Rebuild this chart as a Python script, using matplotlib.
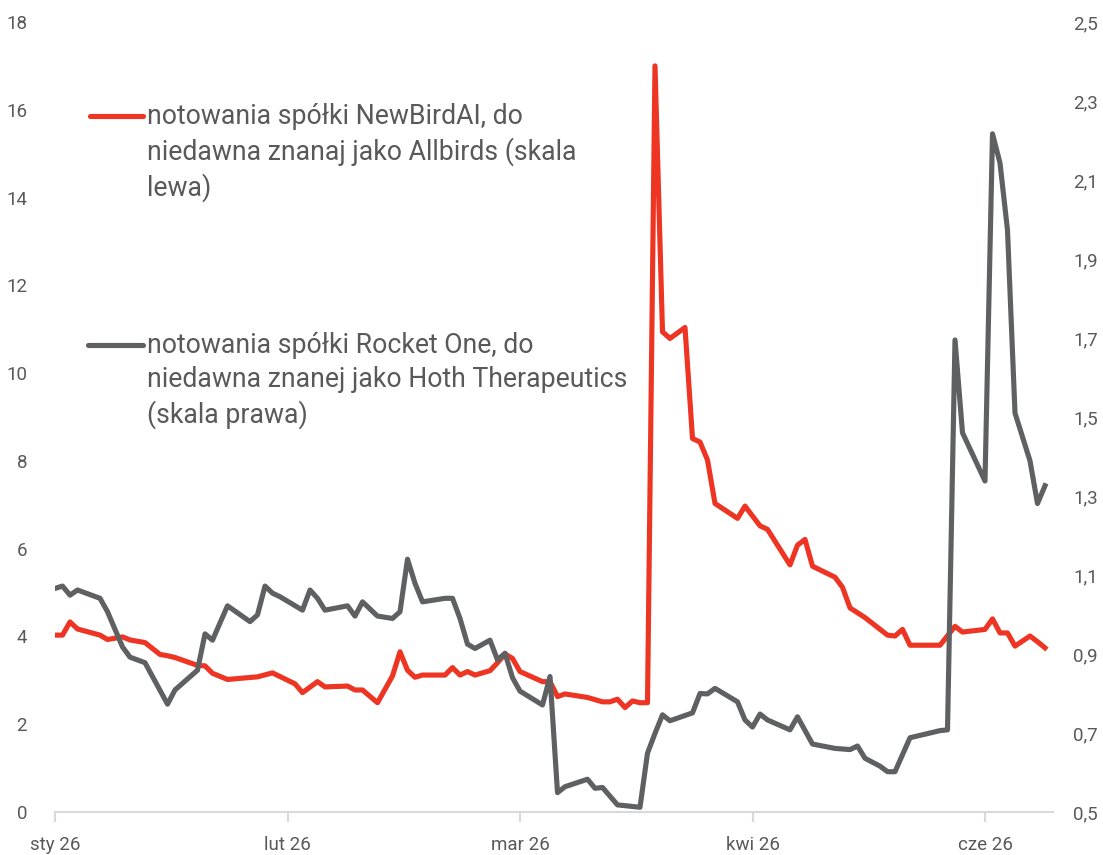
import matplotlib
matplotlib.use("Agg")
import matplotlib.pyplot as plt
from matplotlib.lines import Line2D
from matplotlib.ticker import FuncFormatter

# x = calendar day counted from the first session (trading days only)
newbird_days = [0, 1, 2, 3, 6, 7, 9, 10, 12, 14, 15, 16, 19, 20, 21, 23, 27, 29,
                32, 33, 35, 36, 39, 40, 41, 43, 45, 46, 47, 48, 49, 52, 53, 54,
                55, 56, 58, 59, 60, 61, 62, 65, 66, 67, 68, 71, 73, 74, 75, 76,
                77, 78, 79, 80, 81, 82, 84, 85, 86, 87, 88, 91, 92, 94, 95, 98,
                99, 100, 101, 104, 105, 106, 108, 111, 112, 113, 114, 118, 120,
                121, 124, 125, 126, 127, 128, 130, 131, 132]
newbird_vals = [4.03, 4.03, 4.33, 4.17, 4.03, 3.93, 3.99, 3.92, 3.86, 3.59, 3.56,
                3.52, 3.34, 3.33, 3.16, 3.02, 3.08, 3.17, 2.92, 2.72, 2.97, 2.85,
                2.87, 2.78, 2.78, 2.49, 3.10, 3.65, 3.23, 3.07, 3.12, 3.12, 3.29,
                3.12, 3.20, 3.12, 3.22, 3.40, 3.60, 3.50, 3.20, 2.97, 2.97, 2.63,
                2.69, 2.61, 2.51, 2.51, 2.57, 2.38, 2.53, 2.49, 2.49, 17.0, 10.94,
                10.79, 11.04, 8.51, 8.43, 8.02, 7.03, 6.69, 6.97, 6.52, 6.44, 5.63,
                6.08, 6.21, 5.60, 5.35, 5.12, 4.65, 4.43, 4.03, 4.01, 4.16, 3.80,
                3.80, 4.23, 4.10, 4.16, 4.40, 4.08, 4.08, 3.78, 4.01, 3.88, 3.74]

rocket_days = [0, 1, 2, 3, 6, 7, 9, 10, 12, 15, 16, 19, 20, 21, 23, 26, 27, 28,
               29, 30, 33, 34, 35, 36, 39, 40, 41, 43, 45, 46, 47, 48, 49, 52, 53,
               54, 55, 56, 58, 59, 60, 61, 62, 65, 66, 67, 68, 71, 72, 73, 75, 78,
               79, 80, 81, 82, 85, 86, 87, 88, 91, 92, 93, 94, 95, 98, 99, 101,
               104, 106, 107, 108, 110, 111, 112, 114, 118, 119, 120, 121, 124,
               125, 126, 127, 128, 130, 131, 132]
rocket_vals = [1.066, 1.072, 1.049, 1.062, 1.041, 1.007, 0.918, 0.892, 0.878,
               0.773, 0.809, 0.859, 0.951, 0.935, 1.022, 0.982, 0.999, 1.072,
               1.054, 1.045, 1.011, 1.062, 1.041, 1.011, 1.022, 0.996, 1.032,
               0.996, 0.990, 1.007, 1.140, 1.079, 1.032, 1.041, 1.041, 0.990,
               0.925, 0.914, 0.935, 0.885, 0.902, 0.840, 0.806, 0.771, 0.843,
               0.549, 0.564, 0.583, 0.560, 0.562, 0.518, 0.512, 0.649, 0.699,
               0.746, 0.731, 0.751, 0.800, 0.799, 0.813, 0.779, 0.733, 0.715,
               0.748, 0.733, 0.708, 0.741, 0.672, 0.661, 0.658, 0.667, 0.636,
               0.616, 0.602, 0.602, 0.688, 0.706, 0.708, 1.695, 1.460, 1.338,
               2.217, 2.143, 1.973, 1.510, 1.389, 1.281, 1.326]

tick_days = [0, 31, 62, 93, 124]
tick_labels = ["sty 26", "lut 26", "mar 26", "kwi 26", "cze 26"]

label_newbird = "notowania spółki NewBirdAI, do\nniedawna znanaj jako Allbirds (skala\nlewa)"
label_rocket = "notowania spółki Rocket One, do\nniedawna znanej jako Hoth Therapeutics\n(skala prawa)"

RED = "#EE3524"
GRAY = "#5F6062"
TXT = "#595959"

plt.rcParams['font.family'] = ['Roboto', 'DejaVu Sans']

fig = plt.figure(figsize=(11.03, 8.55), dpi=100)
ax = fig.add_axes([55 / 1103, 1 - 812 / 855, 997.5 / 1103, 790 / 855])
ax2 = ax.twinx()

ax.plot(newbird_days, newbird_vals, color=RED, lw=3.7, solid_joinstyle='round')
ax2.plot(rocket_days, rocket_vals, color=GRAY, lw=3.7, solid_joinstyle='round')

ax.set_xlim(0, 133)
ax.set_ylim(0, 18)
ax.set_yticks(range(0, 19, 2))
ax2.set_ylim(0.5, 2.5)
ax2.set_yticks([0.5 + 0.2 * i for i in range(11)])
ax2.yaxis.set_major_formatter(FuncFormatter(lambda v, p: f"{v:.1f}".replace(".", ",")))

ax.set_xticks(tick_days)
ax.set_xticklabels(tick_labels)

for a in (ax, ax2):
    for s in a.spines.values():
        s.set_visible(False)
ax.spines['bottom'].set_visible(True)
ax.spines['bottom'].set_color("#D9D9D9")
ax.spines['bottom'].set_linewidth(1.5)

ax.tick_params(axis='x', colors="#D9D9D9", length=7, width=1.5, pad=10,
               labelsize=13.5, labelcolor=TXT)
ax.tick_params(axis='y', length=0, pad=20, labelsize=13.5, labelcolor=TXT)
ax2.tick_params(axis='y', length=0, pad=15, labelsize=13.5, labelcolor=TXT)

# legend drawn by hand so the line sits next to the first text line
def legend_entry(y_px, x0_px, color, text):
    y = 1 - y_px / 855
    fig.add_artist(Line2D([x0_px / 1103, 143 / 1103], [y, y], color=color,
                          lw=3.7, solid_capstyle='round', transform=fig.transFigure))
    fig.text(147 / 1103, 1 - (y_px - 13) / 855, text, color=TXT, fontsize=19.2,
             va='top', linespacing=1.33, transform=fig.transFigure)

legend_entry(116, 90, RED, label_newbird)
legend_entry(345, 88, GRAY, label_rocket)

fig.savefig("out.png", dpi=100)
